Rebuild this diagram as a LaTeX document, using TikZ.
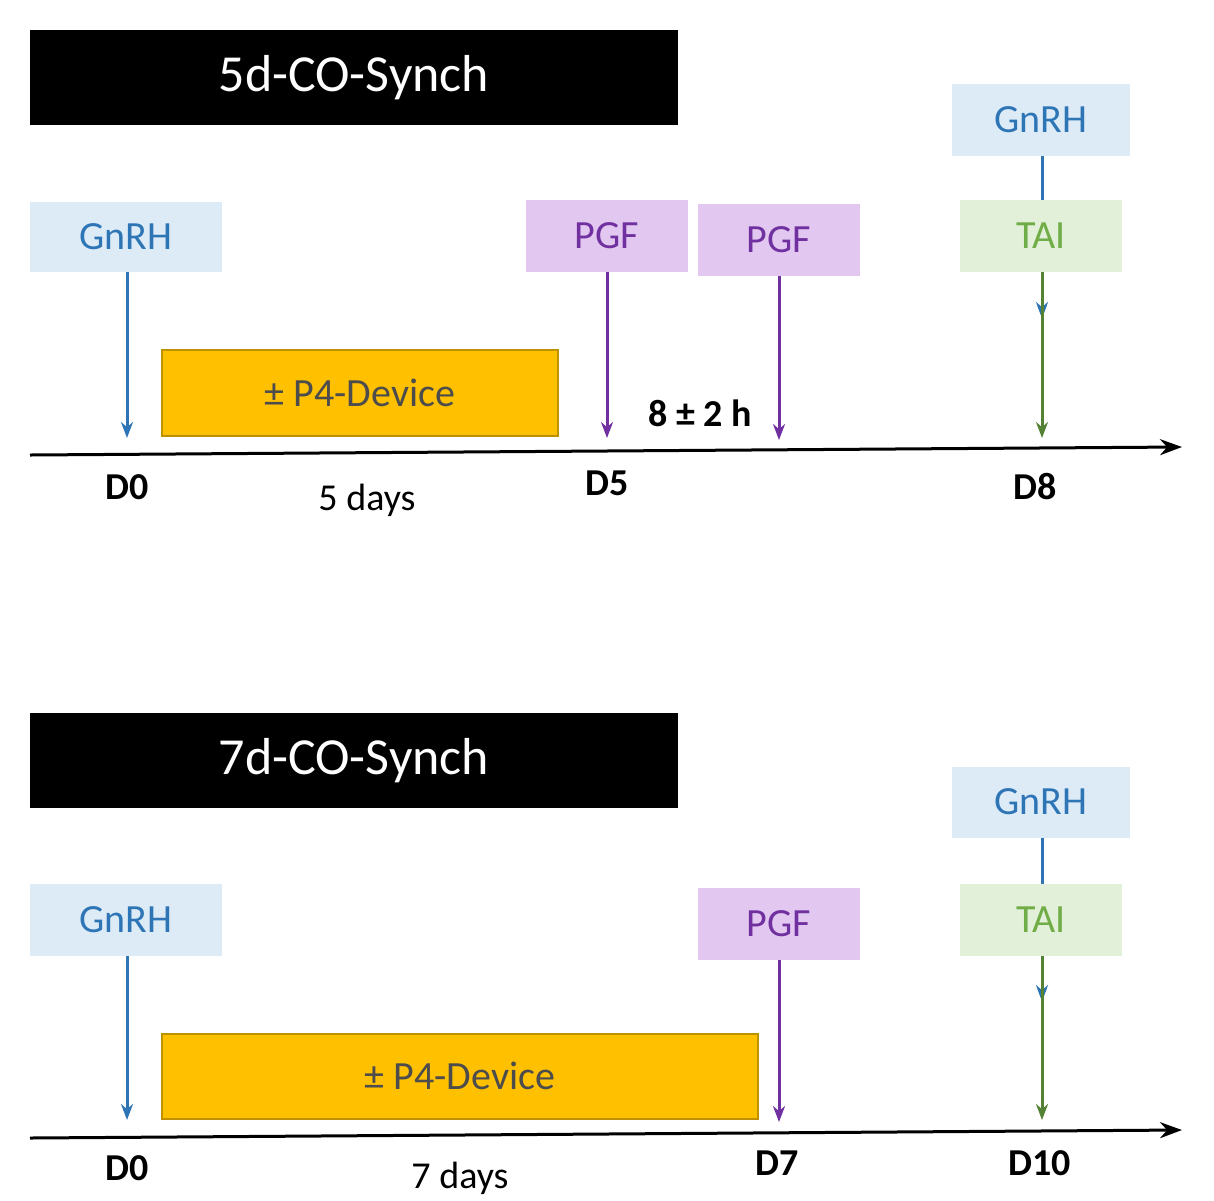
\documentclass[tikz,border=0pt]{standalone}
\usepackage{fontspec}
\setmainfont{Carlito}
\usetikzlibrary{arrows.meta}
\definecolor{gbl}{HTML}{DDEBF7}\definecolor{tbl}{HTML}{2E75B6}
\definecolor{gpu}{HTML}{E2C8F0}\definecolor{tpu}{HTML}{7030A0}
\definecolor{ggr}{HTML}{E2F0D9}\definecolor{tgr}{HTML}{70AD47}
\definecolor{aor}{HTML}{FFC000}\definecolor{bor}{HTML}{BF9000}
\definecolor{agr}{HTML}{548235}
\begin{document}
\begin{tikzpicture}[x=1pt,y=-1pt,
 lab/.style={inner sep=0,font=\fontsize{40}{48}\selectfont},
 title/.style={fill=black,text=white,inner sep=0,font=\fontsize{52}{60}\selectfont},
 gnrh/.style={fill=gbl,text=tbl,inner sep=0,font=\fontsize{40}{48}\selectfont},
 pgf/.style={fill=gpu,text=tpu,inner sep=0,font=\fontsize{40}{48}\selectfont},
 tai/.style={fill=ggr,text=tgr,inner sep=0,font=\fontsize{40}{48}\selectfont},
 dev/.style={fill=aor,draw=bor,line width=2pt,text=black!70,inner sep=0,font=\fontsize{40}{48}\selectfont},
 day/.style={inner sep=0,font=\bfseries\fontsize{38}{46}\selectfont},
 dur/.style={inner sep=0,font=\fontsize{38}{46}\selectfont},
 arr/.style={line width=3pt,-{Stealth[length=16pt,width=12pt]}},
 axis/.style={line width=3pt,-{Stealth[length=22pt,width=16pt]}}]
\useasboundingbox (0,0) rectangle (1214,1200);
% top
\node[title,minimum width=648,minimum height=95] (t1) at (354,77.5) {5d-CO-Synch};
\node[gnrh,minimum width=192,minimum height=70] (g1) at (126,237) {GnRH};
\node[dev,minimum width=396,minimum height=86] (d1) at (360,393) {± P4-Device};
\node[pgf,minimum width=162,minimum height=72] (p1) at (607,236) {PGF};
\node[pgf,minimum width=162,minimum height=72] (p2) at (779,240) {PGF};
\node[gnrh,minimum width=178,minimum height=72] (g2) at (1041,120) {GnRH};
\coordinate (g2a) at (1042,318);
\draw[tbl,arr] (g2.south -| g2a) -- (g2a);
\node[tai,minimum width=162,minimum height=72] (ta1) at (1041,236) {TAI};
\draw[tbl,arr,line width=2pt,-{Stealth[length=12pt,width=9pt]}] (1042,272) -- (g2a);
\coordinate (a0) at (30,455); \coordinate (a1) at (1182,447);
\draw[axis] (a0) -- (a1);
\coordinate (e1) at (127,438); \coordinate (e2) at (607,438);
\coordinate (e3) at (779,440); \coordinate (e4) at (1042,438);
\draw[tbl,arr] (g1.south -| e1) -- (e1);
\draw[tpu,arr] (p1.south -| e2) -- (e2);
\draw[tpu,arr] (p2.south -| e3) -- (e3);
\draw[agr,arr] (ta1.south -| e4) -- (e4);
\node[day] (h1) at (700,413) {8 ± 2 h};
\node[day] (l1) at (127,487) {D0};
\node[dur] (l2) at (367,500) {5 days};
\node[day] (l3) at (607,483) {D5};
\node[day] (l4) at (1035,487) {D8};
% bottom
\node[title,minimum width=648,minimum height=95] (t2) at (354,760.5) {7d-CO-Synch};
\node[gnrh,minimum width=192,minimum height=72] (g3) at (126,920) {GnRH};
\node[dev,minimum width=596,minimum height=85] (d2) at (460,1076) {± P4-Device};
\node[pgf,minimum width=162,minimum height=72] (p3) at (779,924) {PGF};
\node[gnrh,minimum width=178,minimum height=71] (g4) at (1041,802) {GnRH};
\coordinate (g4a) at (1042,1001);
\draw[tbl,arr] (g4.south -| g4a) -- (g4a);
\node[tai,minimum width=162,minimum height=72] (ta2) at (1041,920) {TAI};
\draw[tbl,arr,line width=2pt,-{Stealth[length=12pt,width=9pt]}] (1042,956) -- (g4a);
\coordinate (b0) at (30,1138); \coordinate (b1) at (1182,1130);
\draw[axis] (b0) -- (b1);
\coordinate (f1) at (127,1120); \coordinate (f3) at (779,1122); \coordinate (f4) at (1042,1120);
\draw[tbl,arr] (g3.south -| f1) -- (f1);
\draw[tpu,arr] (p3.south -| f3) -- (f3);
\draw[agr,arr] (ta2.south -| f4) -- (f4);
\node[day] (m1) at (127,1168) {D0};
\node[dur] (m2) at (460,1178) {7 days};
\node[day] (m3) at (777,1163) {D7};
\node[day] (m4) at (1040,1163) {D10};
\end{tikzpicture}
\end{document}
